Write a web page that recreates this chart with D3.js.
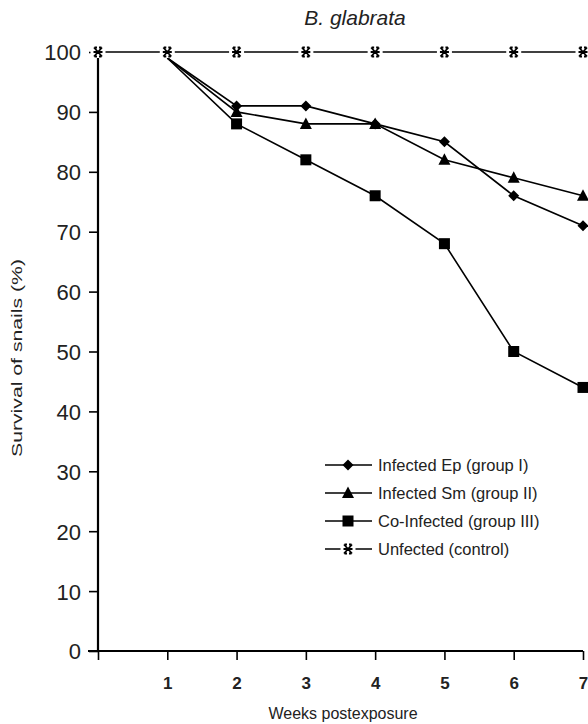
<!DOCTYPE html>
<html>
<head>
<meta charset="utf-8">
<script src="https://cdn.jsdelivr.net/npm/d3@7"></script>
<style>
  body { margin: 0; background: #fff; }
  text { font-family: "Liberation Sans", Arial, sans-serif; fill: #222; }
</style>
</head>
<body>
<svg id="chart" width="588" height="724"></svg>
<script>
const weeks = [0, 1, 2, 3, 4, 5, 6, 7];
const epValues = [null, 99, 91, 91, 88, 85, 76, 71];
const smValues = [null, 99, 90, 88, 88, 82, 79, 76];
const coValues = [null, 99, 88, 82, 76, 68, 50, 44];
const controlValues = [100, 100, 100, 100, 100, 100, 100, 100];
const yTicks = [0, 10, 20, 30, 40, 50, 60, 70, 80, 90, 100];
const xTicks = [1, 2, 3, 4, 5, 6, 7];
const seriesNames = ["Infected Ep (group I)", "Infected Sm (group II)", "Co-Infected (group III)", "Unfected (control)"];

const svg = d3.select("#chart");
const x = d3.scaleLinear().domain([0, 7]).range([98, 583]);
const y = d3.scaleLinear().domain([0, 100]).range([651, 52]);

// axes
const yAxis = svg.append("g").attr("transform", "translate(98,0)")
  .call(d3.axisLeft(y).tickValues(yTicks).tickSize(9).tickPadding(8));
yAxis.select(".domain").attr("d", `M0,${y(100) + 6}V${y(0)}`).attr("stroke-width", 2.2);
yAxis.selectAll(".tick line").attr("stroke-width", 1.6);
yAxis.selectAll(".tick text").style("font-size", "22px").attr("fill", "#222")
  .attr("dy", "0.36em");

const xAxis = svg.append("g").attr("transform", `translate(0,${y(0)})`)
  .call(d3.axisBottom(x).tickValues([0].concat(xTicks)).tickSize(9).tickPadding(17)
    .tickFormat((d) => (d === 0 ? "" : d)));
xAxis.select(".domain").attr("d", `M${x(0) - 10},0H${x(7)}`).attr("stroke-width", 2.2);
xAxis.selectAll(".tick line").attr("stroke-width", 1.6);
xAxis.selectAll(".tick text").style("font-size", "17px").style("font-weight", "bold").attr("fill", "#222");

// titles
svg.append("text").attr("x", 355).attr("y", 25).attr("text-anchor", "middle")
  .style("font-size", "21px").style("font-style", "italic").text("B. glabrata");
svg.append("text").attr("transform", "translate(22,358) rotate(-90)").attr("text-anchor", "middle")
  .attr("textLength", 198).attr("lengthAdjust", "spacingAndGlyphs")
  .style("font-size", "14.5px").text("Survival of snails (%)");
svg.append("text").attr("x", 343).attr("y", 719).attr("text-anchor", "middle")
  .style("font-size", "16px").text("Weeks postexposure");

const line = d3.line()
  .defined((d) => d.v !== null)
  .x((d) => x(d.w))
  .y((d) => y(d.v));

const toPoints = (vals) => weeks.map((w, i) => ({ w: w, v: vals[i] }));

const series = [
  { vals: epValues, marker: "diamond" },
  { vals: smValues, marker: "triangle" },
  { vals: coValues, marker: "square" },
  { vals: controlValues, marker: "star" }
];

function drawMarker(g, type) {
  if (type === "diamond") {
    g.append("path").attr("d", "M0,-5.5L5.5,0L0,5.5L-5.5,0Z").attr("fill", "#000");
  } else if (type === "triangle") {
    g.append("path").attr("d", "M0,-6.5L6,5L-6,5Z").attr("fill", "#000");
  } else if (type === "square") {
    g.append("rect").attr("x", -5.5).attr("y", -5.5).attr("width", 11).attr("height", 11).attr("fill", "#000");
  } else {
    g.append("rect").attr("x", -7.5).attr("y", -6).attr("width", 15).attr("height", 12).attr("fill", "#fff");
    g.append("path").attr("d", "M-4,-4.5L4,4.5M4,-4.5L-4,4.5M-4.5,0H4.5M-3.5,-4.5H-1M1,-4.5H3.5M-3.5,4.5H-1M1,4.5H3.5")
      .attr("stroke", "#000").attr("stroke-width", 1.8).attr("fill", "none");
  }
}

series.forEach((s) => {
  const pts = toPoints(s.vals);
  svg.append("path").datum(pts).attr("d", line)
    .attr("fill", "none").attr("stroke", "#000").attr("stroke-width", 1.6);
  pts.filter((d) => d.v !== null && !(s.marker !== "star" && d.w === 1)).forEach((d) => {
    const g = svg.append("g").attr("transform", `translate(${x(d.w)},${y(d.v)})`);
    drawMarker(g, s.marker);
  });
});

// legend
const legend = svg.append("g").attr("transform", "translate(325,465)");
series.forEach((s, i) => {
  const row = legend.append("g").attr("transform", `translate(0,${i * 28})`);
  row.append("line").attr("x1", 0).attr("x2", 47).attr("y1", 0).attr("y2", 0)
    .attr("stroke", "#000").attr("stroke-width", 1.6);
  const m = row.append("g").attr("transform", "translate(23,0)");
  drawMarker(m, s.marker);
  row.append("text").attr("x", 53).attr("y", 6).style("font-size", "16.5px").text(seriesNames[i]);
});
</script>
</body>
</html>
